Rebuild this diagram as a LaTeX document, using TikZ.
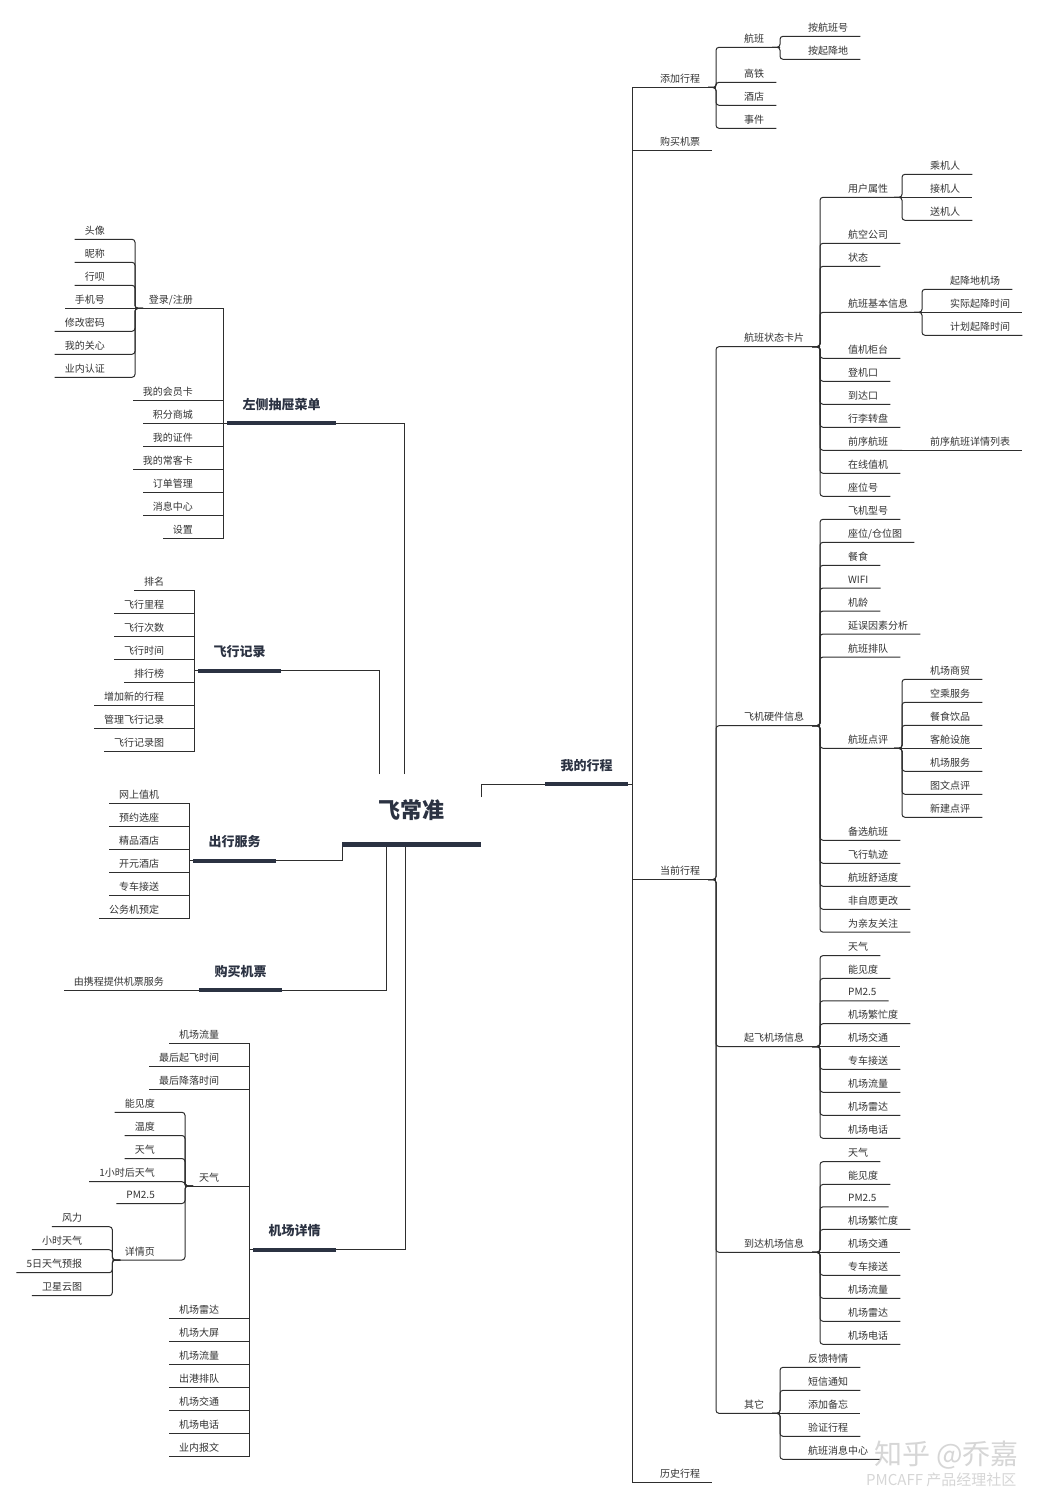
\documentclass[tikz,border=0pt]{standalone}
\usepackage{fontspec}
\newfontfamily\cjk{Noto Sans CJK SC}
\definecolor{txt}{HTML}{333333}
\definecolor{lnc}{HTML}{2E2E2E}
\definecolor{navy}{HTML}{2B3242}
\tikzset{
  itR/.style={anchor=base west, inner sep=0pt, font=\cjk\fontsize{10}{12}\selectfont, text=txt},
  itL/.style={anchor=base east, inner sep=0pt, font=\cjk\fontsize{10}{12}\selectfont, text=txt},
  biglabel/.style={anchor=base, inner sep=0pt, font=\cjk\bfseries\fontsize{13}{15}\selectfont, text=navy},
  rootlabel/.style={anchor=base, inner sep=0pt, font=\cjk\bfseries\fontsize{22}{26}\selectfont, text=navy},
  cn/.style={draw=lnc, line width=1pt},
  cnr/.style={cn, rounded corners=3pt},
  thk/.style={draw=navy, line width=4pt},
  wmark/.style={anchor=base west, inner sep=0pt, text=gray!40, opacity=0.8}
}
% right item: name, spine x, underline y, text, end x (empty = auto)
\newcommand{\RI}[5]{%
  \node[itR] (#1) at (#2+28,#3-5) {#4};
  \coordinate (#1-s) at (#2,#3);
  \ifx\relax#5\relax \coordinate (#1-e) at ([shift={(12,5)}]#1.base east);
  \else \coordinate (#1-e) at (#5,#3); \fi}
% left item
\newcommand{\LI}[5]{%
  \node[itL] (#1) at (#2-30,#3-5) {#4};
  \coordinate (#1-s) at (#2,#3);
  \ifx\relax#5\relax \coordinate (#1-e) at ([shift={(-10,5)}]#1.base west);
  \else \coordinate (#1-e) at (#5,#3); \fi}
\newcommand{\RC}[2]{\draw[cnr] ([xshift=-8pt]#1-e) -| (#2-s) -- (#2-e);}
\newcommand{\LC}[2]{\draw[cnr] ([xshift=8pt]#1-e) -| (#2-s) -- (#2-e);}
\newcommand{\SC}[2]{\draw[cn] (#1-e) |- (#2-s) -- (#2-e);}
\newcommand{\EC}[2]{\draw[cn] (#1-e) -- (#2-e);}
\begin{document}
\begin{tikzpicture}[x=1pt,y=-1pt]
\fill[white] (0,0) rectangle (1038,1498);
\useasboundingbox (0,0) rectangle (1038,1498);

% ---------------- root ----------------
\node[rootlabel] (root) at (411.5,818.5) {飞常准};
\coordinate (root-l) at (342,844.3);
\coordinate (root-r) at (481,844.3);
\coordinate (root-ne) at (481,797);
\coordinate (root-nw1) at (379.3,774);
\coordinate (root-nw2) at (404.5,774);
\coordinate (root-sw1) at (386.7,846);
\coordinate (root-sw2) at (405,846);

% ---------------- main branches ----------------
\node[biglabel] (wdxc) at (586.5,770) {我的行程};
\coordinate (wdxc-s) at (545,784); \coordinate (wdxc-t) at (628,784); \coordinate (wdxc-e) at (632,784);
\node[biglabel] (zc) at (281.5,409) {左侧抽屉菜单};
\coordinate (zc-s) at (336,423); \coordinate (zc-t) at (227,423); \coordinate (zc-e) at (223,423);
\node[biglabel] (fx) at (239.5,656.5) {飞行记录};
\coordinate (fx-s) at (281,670.5); \coordinate (fx-t) at (198,670.5); \coordinate (fx-e) at (194.3,670.5);
\node[biglabel] (cx) at (234.5,846.5) {出行服务};
\coordinate (cx-s) at (276,860.5); \coordinate (cx-t) at (193,860.5); \coordinate (cx-e) at (189.3,860.5);
\node[biglabel] (gp) at (240.5,976) {购买机票};
\coordinate (gp-s) at (282,990); \coordinate (gp-t) at (199,990); \coordinate (gp-e) at (194,990);
\node[biglabel] (jx) at (294.5,1235.5) {机场详情};
\coordinate (jx-s) at (336,1249.5); \coordinate (jx-t) at (253,1249.5); \coordinate (jx-e) at (249.3,1249.5);

\draw[cn] (root-ne) |- (wdxc-e);
\draw[cn] (root-nw2) |- (zc-e);
\draw[cn] (root-nw1) |- (fx-e);
\draw[cn] (root-l) |- (cx-e);
\draw[cn] (root-sw1) |- (gp-e);
\draw[cn] (root-sw2) |- (jx-e);

% ---------------- right: 我的行程 ----------------
\RI{tjxc}{632}{87.5}{添加行程}{716}
\RI{gmjp}{632}{151}{购买机票}{}
\RI{dqxc}{632}{879.5}{当前行程}{716}
\RI{lsxc}{632}{1482.3}{历史行程}{}
\SC{wdxc}{tjxc} \SC{wdxc}{gmjp} \SC{wdxc}{dqxc} \SC{wdxc}{lsxc}

\RI{hb}{716}{47.3}{航班}{780}
\RI{gt}{716}{82.3}{高铁}{}
\RI{jd}{716}{105.3}{酒店}{}
\RI{sj}{716}{128.3}{事件}{}
\RC{tjxc}{hb} \RC{tjxc}{gt} \RC{tjxc}{jd} \RC{tjxc}{sj}
\RI{ahbh}{780}{36.3}{按航班号}{}
\RI{aqjd}{780}{59.3}{按起降地}{}
\RC{hb}{ahbh} \RC{hb}{aqjd}

% 当前行程
\RI{hbzt}{716}{346.7}{航班状态卡片}{820}
\RI{fjyj}{716}{725.7}{飞机硬件信息}{820}
\RI{qfjc}{716}{1046.5}{起飞机场信息}{820}
\RI{ddjc}{716}{1252.3}{到达机场信息}{820}
\RI{qt}{716}{1413.3}{其它}{780}
\RC{dqxc}{hbzt} \RC{dqxc}{fjyj} \RC{dqxc}{qfjc} \RC{dqxc}{ddjc} \RC{dqxc}{qt}

% 航班状态卡片
\RI{yhsx}{820}{197.3}{用户属性}{902}
\RI{hkgs}{820}{243.3}{航空公司}{}
\RI{zt}{820}{266.3}{状态}{}
\RI{jbxx}{820}{312.3}{航班基本信息}{922}
\RI{zjgt}{820}{358.3}{值机柜台}{}
\RI{djk}{820}{381.3}{登机口}{}
\RI{ddk}{820}{404.3}{到达口}{}
\RI{xlzp}{820}{427.3}{行李转盘}{}
\RI{qxhb}{820}{450.3}{前序航班}{902}
\RI{zxzj}{820}{473.3}{在线值机}{}
\RI{zwh}{820}{496.3}{座位号}{}
\RC{hbzt}{yhsx} \RC{hbzt}{hkgs} \RC{hbzt}{zt} \RC{hbzt}{jbxx} \RC{hbzt}{zjgt}
\RC{hbzt}{djk} \RC{hbzt}{ddk} \RC{hbzt}{xlzp} \RC{hbzt}{qxhb} \RC{hbzt}{zxzj} \RC{hbzt}{zwh}
\RI{cjr}{902}{174.3}{乘机人}{}
\RI{jjr}{902}{197.3}{接机人}{}
\RI{sjr}{902}{220.3}{送机人}{}
\RC{yhsx}{cjr} \EC{yhsx}{jjr} \RC{yhsx}{sjr}
\RI{qjdjc}{922}{289.3}{起降地机场}{}
\RI{sjqj}{922}{312.3}{实际起降时间}{}
\RI{jhqj}{922}{335.3}{计划起降时间}{}
\RC{jbxx}{qjdjc} \EC{jbxx}{sjqj} \RC{jbxx}{jhqj}
\RI{qxxq}{902}{450.3}{前序航班详情列表}{}
\EC{qxhb}{qxxq}

% 飞机硬件信息
\RI{fjxh}{820}{519.3}{飞机型号}{}
\RI{zwcw}{820}{542.3}{座位/仓位图}{}
\RI{cs}{820}{565.3}{餐食}{}
\RI{wifi}{820}{588}{WIFI}{}
\RI{jl}{820}{611}{机龄}{}
\RI{ywys}{820}{634}{延误因素分析}{}
\RI{hbpd}{820}{657}{航班排队}{}
\RI{hbdp}{820}{748.3}{航班点评}{902}
\RI{bxhb}{820}{840.3}{备选航班}{}
\RI{fxgj}{820}{863.3}{飞行轨迹}{}
\RI{hbss}{820}{886.3}{航班舒适度}{}
\RI{fzy}{820}{909.3}{非自愿更改}{}
\RI{wqy}{820}{932.1}{为亲友关注}{}
\RC{fjyj}{fjxh} \RC{fjyj}{zwcw} \RC{fjyj}{cs} \RC{fjyj}{wifi} \RC{fjyj}{jl}
\RC{fjyj}{ywys} \RC{fjyj}{hbpd} \RC{fjyj}{hbdp} \RC{fjyj}{bxhb} \RC{fjyj}{fxgj}
\RC{fjyj}{hbss} \RC{fjyj}{fzy} \RC{fjyj}{wqy}
\RI{jcsm}{902}{679.3}{机场商贸}{}
\RI{ccfw}{902}{702.3}{空乘服务}{}
\RI{csyp}{902}{725.3}{餐食饮品}{}
\RI{kcss}{902}{748.3}{客舱设施}{}
\RI{jcfw}{902}{771.3}{机场服务}{}
\RI{twdp}{902}{794.3}{图文点评}{}
\RI{xjdp}{902}{817.3}{新建点评}{}
\RC{hbdp}{jcsm} \RC{hbdp}{ccfw} \RC{hbdp}{csyp} \EC{hbdp}{kcss}
\RC{hbdp}{jcfw} \RC{hbdp}{twdp} \RC{hbdp}{xjdp}

% 起飞机场信息
\RI{qa}{820}{955.6}{天气}{}
\RI{qb}{820}{978.4}{能见度}{}
\RI{qc}{820}{1000.8}{PM2.5}{}
\RI{qd}{820}{1023.7}{机场繁忙度}{}
\RI{qe}{820}{1046.5}{机场交通}{}
\RI{qf}{820}{1069.4}{专车接送}{}
\RI{qg}{820}{1092.3}{机场流量}{}
\RI{qh}{820}{1115.3}{机场雷达}{}
\RI{qi}{820}{1138.3}{机场电话}{}
\RC{qfjc}{qa} \RC{qfjc}{qb} \RC{qfjc}{qc} \RC{qfjc}{qd} \EC{qfjc}{qe}
\RC{qfjc}{qf} \RC{qfjc}{qg} \RC{qfjc}{qh} \RC{qfjc}{qi}

% 到达机场信息
\RI{da}{820}{1161.7}{天气}{}
\RI{db}{820}{1184.4}{能见度}{}
\RI{dc}{820}{1206.8}{PM2.5}{}
\RI{dd}{820}{1229.4}{机场繁忙度}{}
\RI{de}{820}{1252.3}{机场交通}{}
\RI{df}{820}{1275.3}{专车接送}{}
\RI{dg}{820}{1298.3}{机场流量}{}
\RI{dh}{820}{1321.3}{机场雷达}{}
\RI{di}{820}{1344.3}{机场电话}{}
\RC{ddjc}{da} \RC{ddjc}{db} \RC{ddjc}{dc} \RC{ddjc}{dd} \EC{ddjc}{de}
\RC{ddjc}{df} \RC{ddjc}{dg} \RC{ddjc}{dh} \RC{ddjc}{di}

% 其它
\RI{fktq}{780}{1367.3}{反馈特情}{}
\RI{dxtz}{780}{1390.3}{短信通知}{}
\RI{tjbw}{780}{1413.3}{添加备忘}{}
\RI{yzxc}{780}{1436.3}{验证行程}{}
\RI{hbxx}{780}{1459.3}{航班消息中心}{}
\RC{qt}{fktq} \RC{qt}{dxtz} \EC{qt}{tjbw} \RC{qt}{yzxc} \RC{qt}{hbxx}

% ---------------- left: 左侧抽屉菜单 ----------------
\LI{dl}{223}{308.3}{登录/注册}{135}
\LI{hyk}{223}{400.3}{我的会员卡}{}
\LI{jfsc}{223}{423}{积分商城}{}
\LI{wdzj}{223}{446.3}{我的证件}{}
\LI{cyk}{223}{469.3}{我的常客卡}{}
\LI{ddgl}{223}{492.3}{订单管理}{}
\LI{xxzx}{223}{515.3}{消息中心}{}
\LI{shez}{223}{538.3}{设置}{}
\SC{zc}{dl} \SC{zc}{hyk} \SC{zc}{jfsc} \SC{zc}{wdzj} \SC{zc}{cyk} \SC{zc}{ddgl} \SC{zc}{xxzx} \SC{zc}{shez}
\LI{tx}{135}{239.3}{头像}{}
\LI{nc}{135}{262.3}{昵称}{}
\LI{xb}{135}{285.3}{行呗}{}
\LI{sjh}{135}{308.3}{手机号}{}
\LI{xgmm}{135}{331.3}{修改密码}{}
\LI{wdgx}{135}{354.3}{我的关心}{}
\LI{ynrz}{135}{377.3}{业内认证}{}
\LC{dl}{tx} \LC{dl}{nc} \LC{dl}{xb} \EC{dl}{sjh} \LC{dl}{xgmm} \LC{dl}{wdgx} \LC{dl}{ynrz}

% 飞行记录
\LI{pm}{194.3}{590}{排名}{}
\LI{fxlc}{194.3}{613}{飞行里程}{}
\LI{fxcs}{194.3}{636}{飞行次数}{}
\LI{fxsj}{194.3}{659}{飞行时间}{}
\LI{phb}{194.3}{682}{排行榜}{}
\LI{zjxc}{194.3}{705}{增加新的行程}{}
\LI{glfx}{194.3}{728}{管理飞行记录}{}
\LI{fxjt}{194.3}{751}{飞行记录图}{}
\SC{fx}{pm} \SC{fx}{fxlc} \SC{fx}{fxcs} \SC{fx}{fxsj} \SC{fx}{phb} \SC{fx}{zjxc} \SC{fx}{glfx} \SC{fx}{fxjt}

% 出行服务
\LI{wszj}{189.3}{803}{网上值机}{}
\LI{yyxz}{189.3}{826}{预约选座}{}
\LI{jpjd}{189.3}{849}{精品酒店}{}
\LI{kyjd}{189.3}{872}{开元酒店}{}
\LI{zcjs}{189.3}{895}{专车接送}{}
\LI{gwj}{189.3}{918}{公务机预定}{}
\SC{cx}{wszj} \SC{cx}{yyxz} \SC{cx}{jpjd} \SC{cx}{kyjd} \SC{cx}{zcjs} \SC{cx}{gwj}

% 购买机票
\LI{xcfw}{194}{990}{由携程提供机票服务}{}
\SC{gp}{xcfw}

% 机场详情
\LI{ja}{249.3}{1043.3}{机场流量}{}
\LI{jb}{249.3}{1066.3}{最后起飞时间}{}
\LI{jc}{249.3}{1089.3}{最后降落时间}{}
\LI{tq}{249.3}{1186}{天气}{185}
\LI{jd2}{249.3}{1318.3}{机场雷达}{}
\LI{je}{249.3}{1341.3}{机场大屏}{}
\LI{jf2}{249.3}{1364.3}{机场流量}{}
\LI{jg}{249.3}{1387.3}{出港排队}{}
\LI{jh}{249.3}{1410.3}{机场交通}{}
\LI{ji}{249.3}{1433.3}{机场电话}{}
\LI{jj}{249.3}{1456.3}{业内报文}{}
\SC{jx}{ja} \SC{jx}{jb} \SC{jx}{jc} \SC{jx}{tq} \SC{jx}{jd2} \SC{jx}{je}
\SC{jx}{jf2} \SC{jx}{jg} \SC{jx}{jh} \SC{jx}{ji} \SC{jx}{jj}
\LI{ta}{185}{1112.3}{能见度}{}
\LI{tb}{185}{1135.5}{温度}{}
\LI{tc}{185}{1158.5}{天气}{}
\LI{td}{185}{1181.7}{1小时后天气}{}
\LI{te}{185}{1203.5}{PM2.5}{}
\LI{xqy}{185}{1260}{详情页}{112.3}
\LC{tq}{ta} \LC{tq}{tb} \LC{tq}{tc} \LC{tq}{td} \LC{tq}{te} \LC{tq}{xqy}
\LI{fl}{112.3}{1226.7}{风力}{}
\LI{xstq}{112.3}{1249.7}{小时天气}{}
\LI{wrtq}{112.3}{1272.7}{5日天气预报}{}
\LI{wxyt}{112.3}{1295.7}{卫星云图}{}
\LC{xqy}{fl} \LC{xqy}{xstq} \LC{xqy}{wrtq} \LC{xqy}{wxyt}

% ---------------- thick underlines ----------------
\draw[thk, line width=4.7pt] (root-l) -- (root-r);
\draw[thk] (wdxc-s) -- (wdxc-t);
\draw[thk] (zc-s) -- (zc-t);
\draw[thk] (fx-s) -- (fx-t);
\draw[thk] (cx-s) -- (cx-t);
\draw[thk] (gp-s) -- (gp-t);
\draw[thk] (jx-s) -- (jx-t);

% ---------------- watermark ----------------
\node[wmark, font=\cjk\fontsize{28}{30}\selectfont] (wm1) at (874,1464) {知乎 @乔嘉};
\node[wmark, font=\cjk\fontsize{15}{17}\selectfont] (wm2) at (866,1485) {PMCAFF 产品经理社区};
\end{tikzpicture}
\end{document}
